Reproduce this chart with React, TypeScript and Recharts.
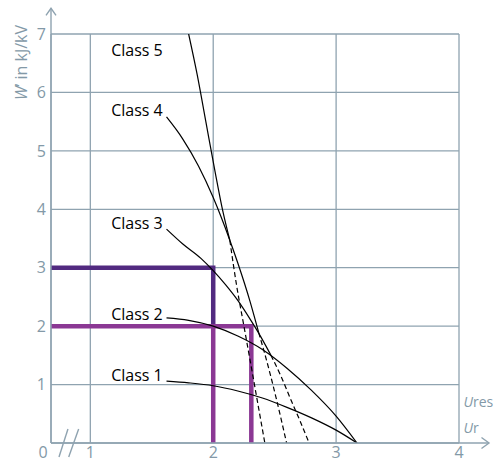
import React from 'react';
import { ComposedChart, Line, XAxis, YAxis, CartesianGrid, ReferenceLine, ReferenceDot } from 'recharts';

// axis ticks (first x tick is the broken-axis origin, labelled "0")
const xTicks = [0.68, 1, 2, 3, 4];
const xTickLabels = ['0', '1', '2', '3', '4'];
const yTicks = [1, 2, 3, 4, 5, 6, 7];

// energy class curves (x = Ures/Ur, y = W' in kJ/kV)
const class1 = [
  { x: 1.62, y: 1.06 }, { x: 1.8, y: 1.03 }, { x: 2.0, y: 0.98 }, { x: 2.2, y: 0.89 },
  { x: 2.4, y: 0.77 }, { x: 2.6, y: 0.61 }, { x: 2.8, y: 0.43 }, { x: 3.0, y: 0.22 }, { x: 3.17, y: 0 },
];
const class2 = [
  { x: 1.62, y: 2.14 }, { x: 1.8, y: 2.1 }, { x: 2.0, y: 2.0 }, { x: 2.2, y: 1.83 },
  { x: 2.4, y: 1.6 }, { x: 2.6, y: 1.28 }, { x: 2.8, y: 0.9 }, { x: 3.0, y: 0.46 }, { x: 3.17, y: 0 },
];
const class3Solid = [
  { x: 1.62, y: 3.66 }, { x: 1.75, y: 3.41 }, { x: 1.9, y: 3.16 }, { x: 2.0, y: 2.95 },
  { x: 2.1, y: 2.71 }, { x: 2.2, y: 2.44 }, { x: 2.3, y: 2.12 }, { x: 2.37, y: 1.88 }, { x: 2.47, y: 1.5 },
];
const class3Dashed = [
  { x: 2.47, y: 1.5 }, { x: 2.55, y: 1.15 }, { x: 2.64, y: 0.7 }, { x: 2.71, y: 0.36 }, { x: 2.78, y: 0 },
];
const class4Solid = [
  { x: 1.62, y: 5.58 }, { x: 1.75, y: 5.21 }, { x: 1.88, y: 4.74 }, { x: 2.0, y: 4.2 },
  { x: 2.135, y: 3.47 }, { x: 2.2, y: 3.08 }, { x: 2.3, y: 2.42 }, { x: 2.37, y: 1.89 },
];
const class4Dashed = [
  { x: 2.37, y: 1.89 }, { x: 2.45, y: 1.29 }, { x: 2.52, y: 0.7 }, { x: 2.597, y: 0 },
];
const class5Solid = [
  { x: 1.8, y: 7.0 }, { x: 1.87, y: 6.3 }, { x: 1.94, y: 5.5 }, { x: 2.01, y: 4.7 },
  { x: 2.08, y: 3.95 }, { x: 2.135, y: 3.47 },
];
const class5Dashed = [
  { x: 2.135, y: 3.47 }, { x: 2.19, y: 2.7 }, { x: 2.25, y: 2.0 }, { x: 2.31, y: 1.3 },
  { x: 2.365, y: 0.65 }, { x: 2.42, y: 0 },
];

// the two example operating points
const markDark = [{ x: 0.68, y: 3 }, { x: 2, y: 3 }, { x: 2, y: 2 }];
const markLight = [{ x: 0.68, y: 2 }, { x: 2.31, y: 2 }, { x: 2.31, y: 0 }];
const markLightDrop = [{ x: 2, y: 2 }, { x: 2, y: 0 }];

const classNames = ['Class 5', 'Class 4', 'Class 3', 'Class 2', 'Class 1'];
const classLabelY = [6.62, 5.59, 3.67, 2.11, 1.06];

const GRID = '#8fa3b0';
const TEXT = '#8399a7';
const DARK = '#522a80';
const LIGHT = '#8b3894';
const FONT = '"Open Sans", sans-serif';

const XTick = (props: any) => {
  const { x, y, payload, index } = props;
  const label = xTickLabels[xTicks.indexOf(payload.value)] ?? String(payload.value);
  const dx = index === 0 ? -8 : 0;
  return (
    <text x={x + dx} y={y} dy={12.5} textAnchor="middle" fill={TEXT} fontSize={16} fontFamily={FONT}>
      {label}
    </text>
  );
};

const arrowX = (p: any) => (
  <g>
    <line x1={p.x1} y1={p.y1} x2={p.x2} y2={p.y2} stroke={GRID} strokeWidth={1.4} />
    <path d={`M${p.x2 - 7.5},${p.y2 - 5.5}L${p.x2},${p.y2}L${p.x2 - 7.5},${p.y2 + 5.5}`} fill="none" stroke={GRID} strokeWidth={1.4} />
  </g>
);

const arrowY = (p: any) => (
  <g>
    <line x1={p.x1} y1={p.y1} x2={p.x2} y2={p.y2} stroke={GRID} strokeWidth={1.4} />
    <path d={`M${p.x2 - 5},${p.y2 + 7}L${p.x2},${p.y2}L${p.x2 + 5},${p.y2 + 7}`} fill="none" stroke={GRID} strokeWidth={1.4} />
  </g>
);

const slash = (p: any) => (
  <line x1={p.x1} y1={p.y1} x2={p.x2} y2={p.y2} stroke={GRID} strokeWidth={1.4} />
);

export default function App() {
  const curve = (data: any[], key: string, dashed = false) => (
    <Line
      key={key}
      data={data}
      dataKey="y"
      type="monotone"
      stroke="#000"
      strokeWidth={1.2}
      strokeDasharray={dashed ? '5 3' : undefined}
      dot={false}
      activeDot={false}
      isAnimationActive={false}
    />
  );
  const mark = (data: any[], key: string, color: string) => (
    <Line
      key={key}
      data={data}
      dataKey="y"
      type="linear"
      stroke={color}
      strokeWidth={4.5}
      strokeLinecap="butt"
      strokeLinejoin="miter"
      dot={false}
      activeDot={false}
      isAnimationActive={false}
    />
  );

  return (
    <div style={{ position: 'absolute', left: 0, top: 0, width: 496, height: 459 }}>
      <ComposedChart
        width={496}
        height={459}
        margin={{ top: 34, right: 37, bottom: 0, left: 0 }}
        style={{ fontFamily: FONT }}
      >
        <CartesianGrid stroke={GRID} strokeWidth={1.3} />
        <XAxis
          type="number"
          dataKey="x"
          domain={[0.68, 4]}
          ticks={xTicks}
          allowDataOverflow
          height={16}
          axisLine={false}
          tickLine={false}
          tickSize={0}
          tickMargin={2}
          tick={<XTick />}
          interval={0}
        />
        <YAxis
          type="number"
          domain={[0, 7]}
          ticks={yTicks}
          allowDataOverflow
          width={51}
          axisLine={false}
          tickLine={false}
          tickSize={0}
          tickMargin={5}
          interval={0}
          tick={{ fill: TEXT, fontSize: 16, fontFamily: FONT }}
        />
        {mark(markDark, 'md', DARK)}
        {mark(markLightDrop, 'mld', LIGHT)}
        {mark(markLight, 'ml', LIGHT)}
        {curve(class1, 'c1')}
        {curve(class2, 'c2')}
        {curve(class3Solid, 'c3')}
        {curve(class3Dashed, 'c3d', true)}
        {curve(class4Solid, 'c4')}
        {curve(class4Dashed, 'c4d', true)}
        {curve(class5Solid, 'c5')}
        {curve(class5Dashed, 'c5d', true)}
        <ReferenceLine segment={[{ x: 0.68, y: 0 }, { x: 4.244, y: 0 }]} ifOverflow="visible" shape={arrowX} />
        <ReferenceLine segment={[{ x: 0.68, y: 0 }, { x: 0.68, y: 7.44 }]} ifOverflow="visible" shape={arrowY} />
        <ReferenceLine segment={[{ x: 0.745, y: -0.24 }, { x: 0.818, y: 0.24 }]} ifOverflow="visible" shape={slash} />
        <ReferenceLine segment={[{ x: 0.824, y: -0.24 }, { x: 0.905, y: 0.24 }]} ifOverflow="visible" shape={slash} />
        {classNames.map((name, i) => (
          <ReferenceDot
            key={name}
            x={1.17}
            y={classLabelY[i]}
            ifOverflow="visible"
            shape={(p: any) => (
              <text x={p.cx} y={p.cy} fill="#000" fontSize={16} fontFamily={FONT}>
                {name}
              </text>
            )}
          />
        ))}
        <ReferenceDot
          x={4.036}
          y={0.62}
          ifOverflow="visible"
          shape={(p: any) => (
            <text x={p.cx} y={p.cy} fill={TEXT} fontSize={14} fontFamily={FONT}>
              <tspan fontStyle="italic">U</tspan>
              <tspan fontStyle="normal">res</tspan>
            </text>
          )}
        />
        <ReferenceDot
          x={4.036}
          y={0.17}
          ifOverflow="visible"
          shape={(p: any) => (
            <text x={p.cx} y={p.cy} fill={TEXT} fontSize={14} fontFamily={FONT}>
              <tspan fontStyle="italic">U</tspan>
              <tspan fontStyle="normal">r</tspan>
            </text>
          )}
        />
      </ComposedChart>
      <svg
        width={40}
        height={120}
        style={{ position: 'absolute', left: 0, top: 0, overflow: 'visible' }}
      >
        <text
          transform="translate(27,62.5) rotate(-90)"
          textAnchor="middle"
          fill={TEXT}
          fontSize={16}
          fontFamily={FONT}
        >
          <tspan fontStyle="italic">W</tspan>’ in kJ/kV
        </text>
      </svg>
    </div>
  );
}
